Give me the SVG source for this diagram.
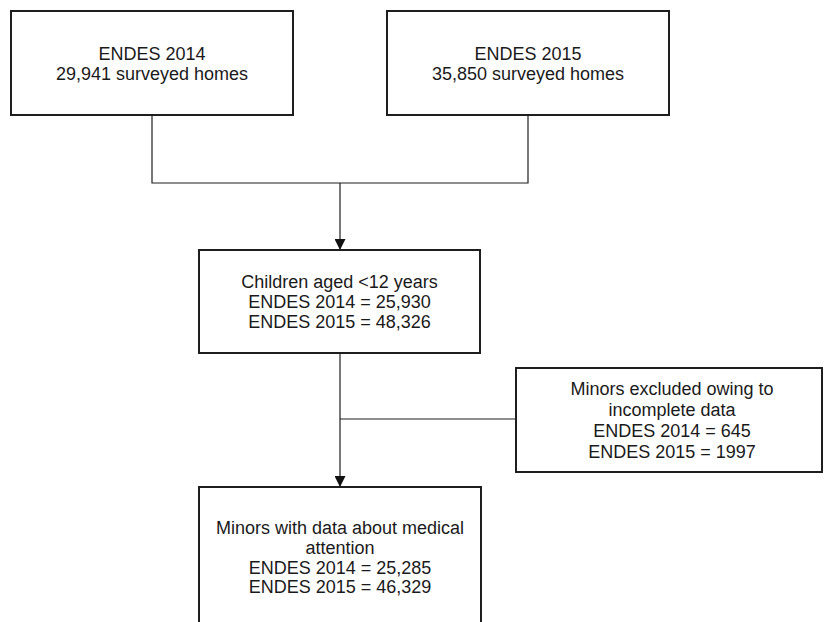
<svg xmlns="http://www.w3.org/2000/svg" width="826" height="622" viewBox="0 0 826 622">
<defs>
<style>
.box{fill:#fff;stroke:#1e1e1e;stroke-width:2}
.ln{fill:none;stroke:#1e1e1e;stroke-width:1.2}
text{font-family:"Liberation Sans",Arial,sans-serif;font-size:18px;fill:#1a1a1a;text-anchor:middle}
</style>
<marker id="ah" viewBox="0 0 11 11" markerWidth="11" markerHeight="11" refX="11" refY="5.5" orient="auto" markerUnits="userSpaceOnUse">
<path d="M0,0 L11,5.5 L0,11 Z" fill="#111"/>
</marker>
</defs>
<g id="connectors">
<polyline class="ln" points="152,115 152,183 528,183 528,115"/>
<line class="ln" x1="340" y1="183" x2="340" y2="250" marker-end="url(#ah)"/>
<line class="ln" x1="340" y1="353" x2="340" y2="487" marker-end="url(#ah)"/>
<line class="ln" x1="340" y1="419" x2="516" y2="419"/>
</g>
<g id="endes2014">
<rect class="box" x="11" y="11" width="282" height="104"/>
<text x="152" y="60">ENDES 2014</text>
<text x="152" y="80">29,941 surveyed homes</text>
</g>
<g id="endes2015">
<rect class="box" x="387" y="11" width="282" height="104"/>
<text x="528" y="60">ENDES 2015</text>
<text x="528" y="80">35,850 surveyed homes</text>
</g>
<g id="children">
<rect class="box" x="199" y="250" width="281" height="103"/>
<text x="339.5" y="288">Children aged &lt;12 years</text>
<text x="339.5" y="308">ENDES 2014 = 25,930</text>
<text x="339.5" y="328">ENDES 2015 = 48,326</text>
</g>
<g id="excluded">
<rect class="box" x="516" y="368" width="306" height="104"/>
<text x="672" y="395">Minors excluded owing to</text>
<text x="672" y="415.5">incomplete data</text>
<text x="672" y="436.5">ENDES 2014 = 645</text>
<text x="672" y="457.5">ENDES 2015 = 1997</text>
</g>
<g id="minors">
<rect class="box" x="199" y="487" width="282" height="150"/>
<text x="340" y="534">Minors with data about medical</text>
<text x="340" y="553.5">attention</text>
<text x="340" y="573.5">ENDES 2014 = 25,285</text>
<text x="340" y="593">ENDES 2015 = 46,329</text>
</g>
</svg>
